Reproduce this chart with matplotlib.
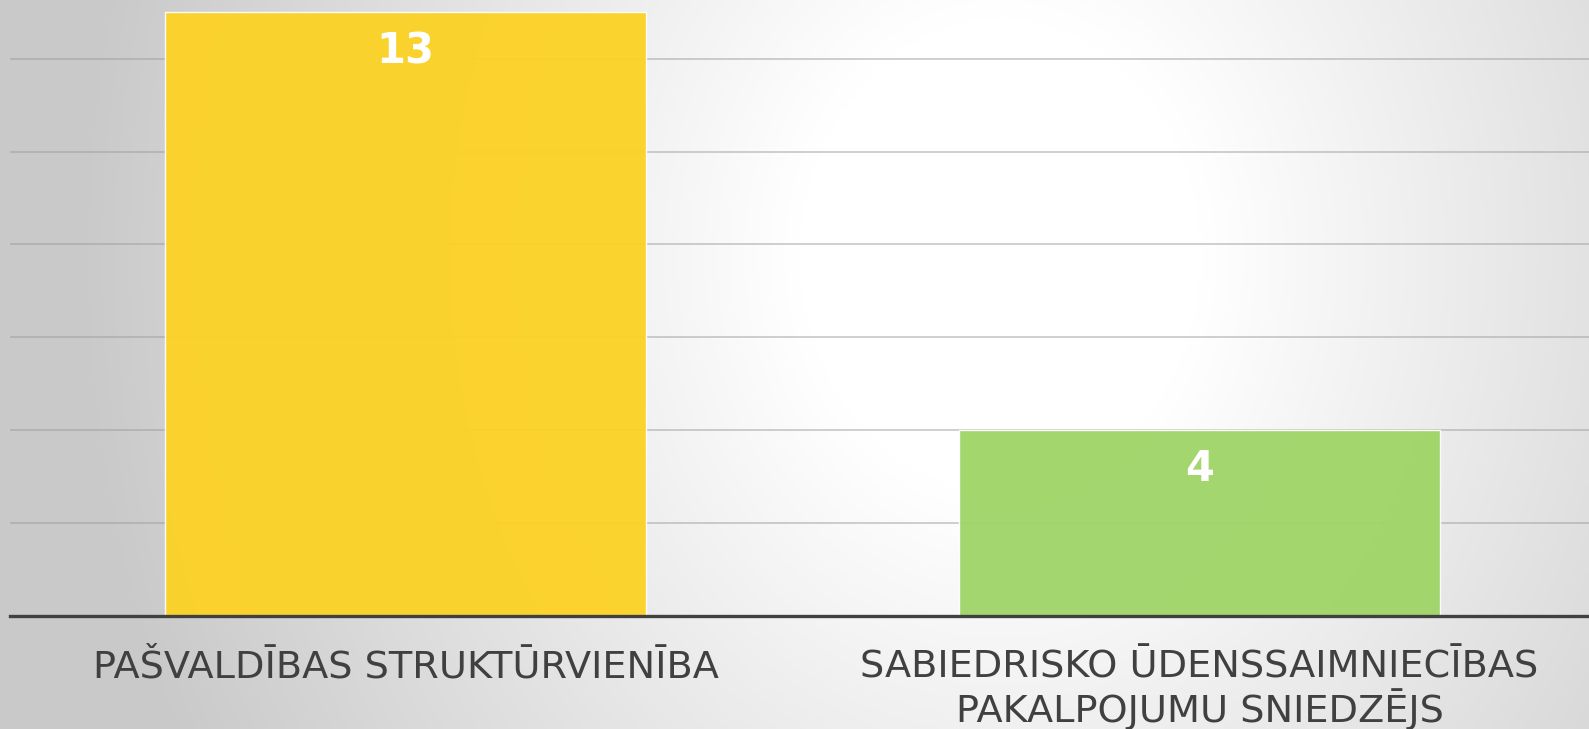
import numpy as np
import matplotlib
matplotlib.use("Agg")
import matplotlib.pyplot as plt

categories = ["PAŠVALDĪBAS STRUKTŪRVIENĪBA",
              "SABIEDRISKO ŪDENSSAIMNIECĪBAS\nPAKALPOJUMU SNIEDZĒJS"]
values = [13, 4]
bar_colors = ["#FCD226", "#A0D568"]
yticks = [2, 4, 6, 8, 10, 12]

W, H = 1589, 729
fig = plt.figure(figsize=(W / 100, H / 100), dpi=100)

# background radial gradient
bg = fig.add_axes([0, 0, 1, 1], zorder=0)
xx, yy = np.meshgrid(np.linspace(0, 1, 400), np.linspace(0, 1, 200))
cx, cy, rx, ry = 0.63, 0.65, 0.58, 1.5
d = np.sqrt(((xx - cx) / rx) ** 2 + ((yy - cy) / ry) ** 2)
t = np.clip((d - 0.22) / 0.78, 0, 1)
val = 1 - 0.21 * t
bg.imshow(np.dstack([val, val, val]), extent=[0, 1, 0, 1], origin="lower",
          aspect="auto", interpolation="bilinear")
bg.set_axis_off()

left = 10 / W
bottom = (H - 616) / H
ax = fig.add_axes([left, bottom, 1 - left, 1 - bottom], zorder=1)
ax.patch.set_alpha(0)

x = np.arange(len(categories))
spacing_px = 794
xl = -(405.5 - 10) / spacing_px
xr = xl + (W - 10) / spacing_px
ax.set_xlim(xl, xr)
ax.set_ylim(0, 616 / 46.45)

for yv in yticks:
    ax.axhline(yv, color="#9a9a9a", alpha=0.55, lw=1.2, zorder=1)

bars = ax.bar(x, values, width=481 / spacing_px, color=bar_colors, alpha=0.96,
              edgecolor=(1, 1, 1, 0.5), linewidth=1, zorder=2)

for xi, v in zip(x, values):
    ax.annotate(str(v), (xi, v), xytext=(0, -39), textcoords="offset pixels",
                ha="center", va="center", color="white", fontsize=30,
                fontweight="bold", family="DejaVu Sans", zorder=3)

for s in ["top", "right", "left"]:
    ax.spines[s].set_visible(False)
ax.spines["bottom"].set_color("#404040")
ax.spines["bottom"].set_linewidth(2.4)
ax.spines["bottom"].set_zorder(4)

ax.set_yticks([])
ax.set_xticks(x)
ax.set_xticklabels(categories, fontsize=27.5, color="#404040",
                   family="DejaVu Sans", linespacing=1.08)
ax.tick_params(axis="x", length=0, pad=24)

fig.savefig("out.png", dpi=100)
